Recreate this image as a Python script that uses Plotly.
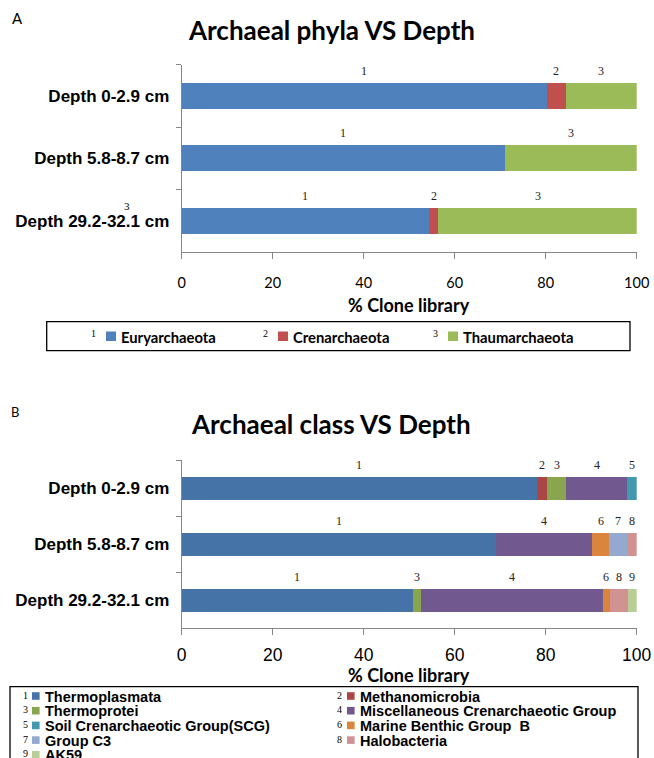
import plotly.graph_objects as go

W, H = 654, 758

# ---------------- data ----------------
depths = ["Depth 0-2.9 cm", "Depth 5.8-8.7 cm", "Depth 29.2-32.1 cm"]
x_ticks = [0, 20, 40, 60, 80, 100]

phyla = ["Euryarchaeota", "Crenarchaeota", "Thaumarchaeota"]
euryarchaeota = [80.3, 71.1, 54.4]
crenarchaeota = [4.1, 0.0, 2.0]
thaumarchaeota = [15.6, 28.9, 43.6]
phyla_values = [euryarchaeota, crenarchaeota, thaumarchaeota]
phyla_colors = ["#4F81BD", "#C0504D", "#9BBB59"]

classes = ["Thermoplasmata", "Methanomicrobia", "Thermoprotei",
           "Miscellaneous Crenarchaeotic Group", "Soil Crenarchaeotic Group(SCG)",
           "Marine Benthic Group  B", "Group C3", "Halobacteria", "AK59"]
thermoplasmata = [78.1, 69.0, 50.8]
methanomicrobia = [2.2, 0.0, 0.0]
thermoprotei = [4.2, 0.0, 1.8]
mcg = [13.4, 21.2, 40.0]
scg = [2.1, 0.0, 0.0]
mbgb = [0.0, 3.7, 1.5]
group_c3 = [0.0, 4.0, 0.0]
halobacteria = [0.0, 2.1, 4.0]
ak59 = [0.0, 0.0, 1.9]
class_values = [thermoplasmata, methanomicrobia, thermoprotei, mcg, scg,
                mbgb, group_c3, halobacteria, ak59]
class_colors = ["#4572A7", "#AA4643", "#89A54E", "#71588F", "#4198AF",
                "#DB843D", "#93A9CF", "#D19392", "#B9CD96"]

# ---------------- helpers ----------------
def px(x):
    return x / W

def py(y):
    return 1 - y / H

AXIS_GRAY = "#868686"
SERIF = "Liberation Serif, Times New Roman, serif"
SANS = "Liberation Sans, Arial, sans-serif"
CAL = "Lato, Carlito, Calibri, sans-serif"

fig = go.Figure()
annotations = []
shapes = []

# ---------------- bars ----------------
def add_bars(names, values, colors, xa, ya, width, label_shift):
    for k, (name, vals, col) in enumerate(zip(names, values, colors)):
        fig.add_trace(go.Bar(
            y=depths, x=vals, name=name, orientation="h",
            marker=dict(color=col, line=dict(width=0)),
            width=width, xaxis=xa, yaxis=ya, showlegend=False,
            hovertemplate=name + ": %{x}%<extra></extra>",
        ))
    # segment number labels
    for j, d in enumerate(depths):
        start = 0.0
        for k, vals in enumerate(values):
            v = vals[j]
            if v > 0:
                annotations.append(dict(
                    x=start + v / 2, y=d, xref=xa, yref=ya,
                    text=str(k + 1), showarrow=False, yshift=label_shift,
                    font=dict(family=SERIF, size=12, color="#222222"),
                ))
            start += v

add_bars(phyla, phyla_values, phyla_colors, "x", "y", 0.42, 25)
add_bars(classes, class_values, class_colors, "x2", "y2", 0.41, 23)

# ---------------- axes ----------------
def xaxis_cfg(tickfont, standoff):
    return dict(
        domain=[px(181.7), px(636.7)], range=[0, 100],
        tickvals=x_ticks, ticktext=[str(t) for t in x_ticks],
        showgrid=False, zeroline=False, showline=True,
        linecolor=AXIS_GRAY, linewidth=1,
        ticks="outside", ticklen=6, tickcolor=AXIS_GRAY,
        tickfont=tickfont, ticklabelstandoff=standoff, fixedrange=True,
        automargin=False,
    )

def yaxis_cfg(top, bottom, anchor):
    return dict(
        domain=[py(bottom), py(top)], type="category",
        categoryorder="array", categoryarray=depths,
        range=[2.5, -0.5], anchor=anchor,
        showgrid=False, zeroline=False, showline=True,
        linecolor=AXIS_GRAY, linewidth=1,
        ticks="outside", ticklen=5, tickcolor=AXIS_GRAY, tickson="boundaries",
        tickfont=dict(family=SANS, size=17, color="#000000", weight="bold"),
        ticklabelstandoff=8, fixedrange=True, automargin=False,
    )

fig.update_layout(
    xaxis=dict(anchor="y", **xaxis_cfg(dict(family=CAL, size=14.5, color="#000000"), 12)),
    yaxis=yaxis_cfg(64.7, 252, "x"),
    xaxis2=dict(anchor="y2", **xaxis_cfg(dict(family=SANS, size=17.5, color="#000000"), 5)),
    yaxis2=yaxis_cfg(460, 628.3, "x2"),
)

# ---------------- titles / texts ----------------
def text(x, y, s, family, size, bold=False, xanchor="center", color="#000000"):
    annotations.append(dict(
        x=px(x), y=py(y), xref="paper", yref="paper",
        text=("<b>%s</b>" % s) if bold else s, showarrow=False,
        xanchor=xanchor, yanchor="middle",
        font=dict(family=family, size=size, color=color),
    ))

text(17, 18, "A", CAL, 15)
text(331, 30, "Archaeal phyla VS Depth", CAL, 26, bold=True)
text(409, 305, "% Clone library", CAL, 18, bold=True)
text(127, 206, "3", SERIF, 11)  # stray mark in the original figure

text(14.5, 412, "B", CAL, 13)
text(331, 424, "Archaeal class VS Depth", CAL, 26, bold=True)
text(409, 675, "% Clone library", CAL, 18, bold=True)

# ---------------- legend A (drawn) ----------------
shapes.append(dict(type="rect", xref="paper", yref="paper",
                   x0=px(46.7), x1=px(630), y0=py(350.7), y1=py(321.7),
                   line=dict(color="#000000", width=1.3), fillcolor="rgba(0,0,0,0)"))
legA_num_x = [93, 265, 435]
for k, (name, col) in enumerate(zip(phyla, phyla_colors)):
    nx = legA_num_x[k]
    text(nx, 333.5, str(k + 1), SERIF, 10)
    sx = nx + 13
    shapes.append(dict(type="rect", xref="paper", yref="paper",
                       x0=px(sx), x1=px(sx + 10), y0=py(341), y1=py(331.5),
                       line=dict(width=0), fillcolor=col))
    text(sx + 13, 336.5, name, CAL, 14.8, bold=True, xanchor="left")

# ---------------- legend B (drawn) ----------------
shapes.append(dict(type="rect", xref="paper", yref="paper",
                   x0=px(10), x1=px(638), y0=py(780), y1=py(686.7),
                   line=dict(color="#000000", width=1.3), fillcolor="rgba(0,0,0,0)"))
col_num_x = [25, 340]
row_y = [696.5, 711.2, 725.9, 740.6, 755.3]
for k, (name, col) in enumerate(zip(classes, class_colors)):
    c = k % 2
    r = k // 2
    nx = col_num_x[c]
    yy = row_y[r]
    text(nx, yy - 1.5, str(k + 1), SERIF, 10)
    sx = nx + 7
    shapes.append(dict(type="rect", xref="paper", yref="paper",
                       x0=px(sx), x1=px(sx + 7.6), y0=py(yy + 3.3), y1=py(yy - 4.3),
                       line=dict(width=0), fillcolor=col))
    text(sx + 10.7, yy, name, SANS, 14.5, bold=True, xanchor="left")

fig.update_layout(
    width=W, height=H, barmode="stack",
    margin=dict(l=0, r=0, t=0, b=0, autoexpand=False),
    paper_bgcolor="#FFFFFF", plot_bgcolor="#FFFFFF",
    showlegend=False, annotations=annotations, shapes=shapes,
)

fig.write_html(
    "out.html",
    config={"responsive": False, "displayModeBar": False},
    post_script="document.body.style.margin='0';document.body.style.padding='0';"
                "document.body.style.overflow='hidden';",
)
